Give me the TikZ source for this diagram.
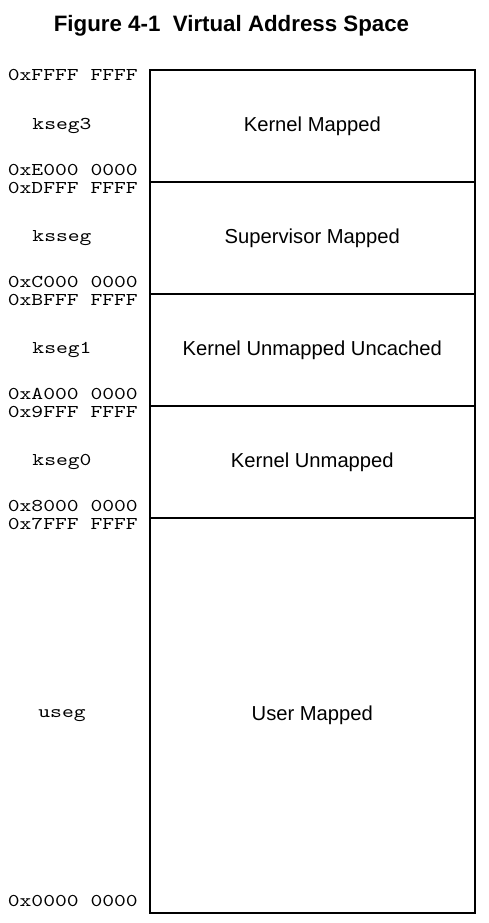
\documentclass[tikz,border=0pt]{standalone}
\usepackage{fontspec}
\setmainfont{Liberation Sans}
\setmonofont{lmmono10-regular.otf}[FakeStretch=1.25]
\usetikzlibrary{positioning}

\tikzset{
  segbox/.style={draw,line width=1.6pt,minimum width=325pt,anchor=north west,
    inner sep=0pt,font=\fontsize{20.2}{24}\selectfont},
  addr/.style={font=\ttfamily\fontsize{18}{22}\selectfont,anchor=base east,inner sep=0pt},
  segname/.style={font=\ttfamily\fontsize{18}{22}\selectfont,inner sep=0pt},
}

\begin{document}
\begin{tikzpicture}[x=1pt,y=-1pt]
  \useasboundingbox (0,0) rectangle (488,923);
  \node[font=\bfseries\fontsize{22.3}{26}\selectfont,anchor=base] (title) at (231.5,32)
    {Figure 4-1\ \ Virtual Address Space};
  % one box per segment: top/height/id/name/text/high/low
  \foreach \ytop/\segh/\id/\nm/\txt/\hi/\lo in {
      69/112/kthree/kseg3/Kernel Mapped/0xFFFF FFFF/0xE000 0000,
      181/112/ks/ksseg/Supervisor Mapped/0xDFFF FFFF/0xC000 0000,
      293/112/kone/kseg1/Kernel Unmapped Uncached/0xBFFF FFFF/0xA000 0000,
      405/112/kzero/kseg0/Kernel Unmapped/0x9FFF FFFF/0x8000 0000,
      517/395/user/useg/User Mapped/0x7FFF FFFF/0x0000 0000}
  {
    \node[segbox,minimum height=\segh pt] (\id) at (149,\ytop) {\txt};
    \node[segname] (\id-name) at ([xshift=-87pt]\id.west) {\nm};
    \node[addr] (\id-hi) at ([xshift=-11pt,yshift=-12pt]\id.north west) {\hi};
    \node[addr] (\id-lo) at ([xshift=-11pt,yshift=7.5pt]\id.south west) {\lo};
  }
\end{tikzpicture}
\end{document}
